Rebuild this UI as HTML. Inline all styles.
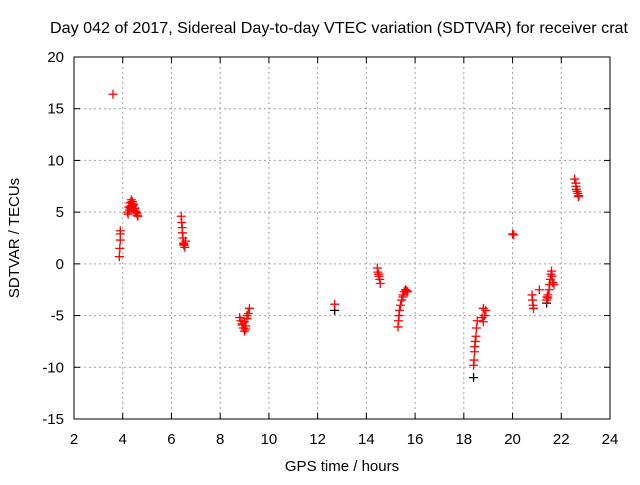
<!DOCTYPE html>
<html><head><meta charset="utf-8"><style>
html,body{margin:0;padding:0;background:#fff}
svg text{font-family:"Liberation Sans",sans-serif;font-size:15px;fill:#000}
</style></head><body>
<svg width="640" height="480">
<g id="grid"></g>
<g id="axes"></g>
<g id="pts"></g>
<text x="339" y="33" text-anchor="middle" style="font-size:16px" textLength="578" lengthAdjust="spacingAndGlyphs">Day 042 of 2017, Sidereal Day-to-day VTEC variation (SDTVAR) for receiver crat</text>
<text x="342" y="471" text-anchor="middle">GPS time / hours</text>
<text transform="translate(19,238) rotate(-90)" text-anchor="middle">SDTVAR / TECUs</text>
</svg>
<script>
const xTicks=[2,4,6,8,10,12,14,16,18,20,22,24];
const yTicks=[-15,-10,-5,0,5,10,15,20];
const redX=[3.6,3.9,3.9,3.9,3.88,3.86,4.2,4.25,4.3,4.35,4.4,4.45,4.5,4.55,4.6,4.22,4.28,4.33,4.38,4.42,4.48,4.52,4.58,4.62,4.3,4.4,
6.4,6.42,6.44,6.45,6.47,6.5,6.52,6.55,6.58,6.5,
8.8,8.85,8.9,8.95,9.0,9.05,9.1,9.15,9.2,8.9,9.0,9.1,9.05,
12.7,14.45,14.47,14.5,14.52,14.55,14.57,
15.3,15.32,15.34,15.36,15.4,15.45,15.5,15.55,15.6,15.65,15.7,15.5,
18.4,18.42,18.44,18.45,18.47,18.5,18.52,18.55,18.8,18.85,18.9,18.75,18.8,
20.0,20.05,20.8,20.82,20.84,20.86,21.1,21.4,21.42,21.45,21.5,21.52,21.55,21.58,21.6,21.62,21.65,21.7,21.45,
22.55,22.6,22.62,22.65,22.68,22.7,22.72,22.6];
const redY=[16.4,3.2,2.9,2.3,1.5,0.7,5.0,5.5,5.9,6.2,6.0,5.7,5.4,5.0,4.7,4.8,5.2,5.6,6.0,5.8,5.3,5.1,4.9,4.6,5.4,5.6,
4.6,4.0,3.5,3.0,2.5,2.0,1.8,1.6,2.2,1.9,
-5.2,-5.5,-5.9,-6.2,-6.5,-6.0,-5.3,-4.8,-4.3,-5.8,-5.6,-5.0,-6.3,
-3.9,-0.4,-0.8,-1.0,-1.2,-1.5,-1.9,
-6.1,-5.5,-5.0,-4.5,-4.0,-3.5,-3.0,-2.7,-2.5,-2.6,-2.7,-3.2,
-9.8,-9.3,-8.5,-8.0,-7.5,-7.0,-6.2,-5.5,-5.6,-5.0,-4.5,-5.2,-4.3,
2.9,2.8,-3.0,-3.5,-4.0,-4.3,-2.5,-3.5,-3.2,-3.0,-2.5,-2.0,-1.5,-1.0,-0.7,-1.2,-1.8,-2.0,-3.3,
8.2,7.5,7.2,7.0,6.8,6.5,6.6,7.8];
const blackX=[12.7,18.4,21.4];
const blackY=[-4.5,-11.0,-3.8];
const L=74,R=610,T=57,B=419;
const sx=v=>L+(v-2)/22*(R-L);
const sy=v=>B-(v+15)/35*(B-T);
const NS="http://www.w3.org/2000/svg";
function mk(tag,attrs,parent){const e=document.createElementNS(NS,tag);for(const k in attrs)e.setAttribute(k,attrs[k]);document.getElementById(parent).appendChild(e);return e;}
xTicks.forEach(t=>{const x=sx(t);
 if(t>2&&t<24){const g=mk('line',{x1:x,x2:x,y1:T,y2:B,stroke:'#a0a0a0','stroke-dasharray':'2,3'},'grid');}
 mk('line',{x1:x,x2:x,y1:B,y2:B-6,stroke:'#000'},'axes');mk('line',{x1:x,x2:x,y1:T,y2:T+6,stroke:'#000'},'axes');
 const tx=mk('text',{x:x,y:B+25,'text-anchor':'middle'},'axes');tx.textContent=t;
 });
yTicks.forEach(t=>{const y=sy(t);
 if(t>-15&&t<20){const g=mk('line',{x1:L,x2:R,y1:y,y2:y,stroke:'#a0a0a0','stroke-dasharray':'2,3'},'grid');}
 mk('line',{x1:L,x2:L+6,y1:y,y2:y,stroke:'#000'},'axes');mk('line',{x1:R,x2:R-6,y1:y,y2:y,stroke:'#000'},'axes');
 const tx=mk('text',{x:L-10,y:y+5,'text-anchor':'end'},'axes');tx.textContent=t;
 });
const fr=mk('rect',{x:L,y:T,width:R-L,height:B-T,fill:'none',stroke:'#000'},'axes');

function plus(x,y,c,n){const p=mk('path',{d:`M${x-4.5},${y}h9M${x},${y-4.5}v9`,stroke:c,'stroke-width':1.3,fill:'none'},'pts');
 }
blackX.forEach((v,i)=>plus(sx(v),sy(blackY[i]),'#000','black-point'));
redX.forEach((v,i)=>plus(sx(v),sy(redY[i]),'#ff0000','red-point'));
</script>
</body></html>
